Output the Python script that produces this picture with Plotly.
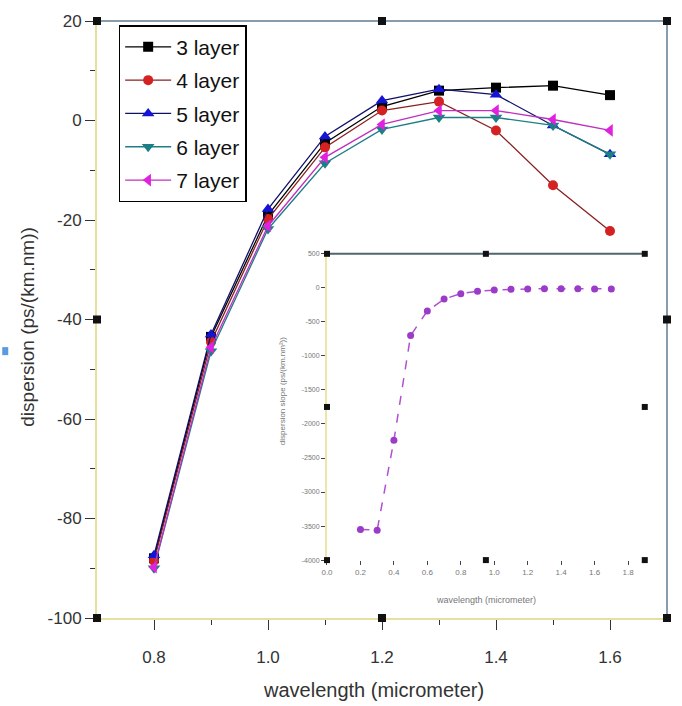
import plotly.graph_objects as go

# ---- main chart data ----
wavelength = [0.8, 0.9, 1.0, 1.1, 1.2, 1.3, 1.4, 1.5, 1.6]
layer3 = [-88.0, -43.5, -19.0, -4.5, 2.8, 6.0, 6.6, 7.0, 5.1]
layer4 = [-88.5, -44.5, -19.8, -5.4, 2.0, 3.8, -2.0, -13.0, -22.2]
layer5 = [-87.4, -43.0, -17.8, -3.2, 4.0, 6.3, 5.2, -1.0, -6.8]
layer6 = [-90.0, -46.4, -21.8, -8.6, -1.8, 0.6, 0.6, -1.0, -6.8]
layer7 = [-89.8, -45.6, -21.2, -7.4, -0.8, 2.0, 2.0, 0.2, -2.0]
series_names = ["3 layer", "4 layer", "5 layer", "6 layer", "7 layer"]
main_xticks = [0.8, 1.0, 1.2, 1.4, 1.6]
main_yticks = [20, 0, -20, -40, -60, -80, -100]

# ---- inset data ----
inset_wl = [0.2, 0.3, 0.4, 0.5, 0.6, 0.7, 0.8, 0.9, 1.0, 1.1, 1.2, 1.3, 1.4, 1.5, 1.6, 1.7]
inset_slope = [-3550, -3560, -2240, -700, -340, -165, -85, -48, -33, -22, -16, -12, -12, -14, -15, -15]
inset_xticks = [0.0, 0.2, 0.4, 0.6, 0.8, 1.0, 1.2, 1.4, 1.6, 1.8]
inset_yticks = [500, 0, -500, -1000, -1500, -2000, -2500, -3000, -3500, -4000]

colors = ["#000000", "#d42222", "#1414d8", "#1c7f86", "#e022e0"]
line_colors = ["#000000", "#8a2020", "#10106a", "#1c7f86", "#c030c0"]
symbols = ["square", "circle", "triangle-up", "triangle-down", "triangle-left"]
sizes = [10, 10, 11, 11, 11]

FONT = "Liberation Sans, Arial, sans-serif"

fig = go.Figure()
for i, (name, ys) in enumerate(zip(series_names, [layer3, layer4, layer5, layer6, layer7])):
    fig.add_trace(go.Scatter(
        x=wavelength, y=ys, name=name, mode="lines+markers",
        line=dict(color=line_colors[i], width=1.3),
        marker=dict(symbol=symbols[i], size=sizes[i], color=colors[i]),
        legendgroup=name, xaxis="x", yaxis="y"))

fig.add_trace(go.Scatter(
    x=inset_wl, y=inset_slope, mode="lines+markers", showlegend=False,
    line=dict(color="#b050d0", width=1.5, dash="dash"),
    marker=dict(symbol="circle", size=7, color="#9a3cc8"),
    xaxis="x2", yaxis="y2"))

axis_font = dict(family=FONT, size=17, color="#333333")
fig.update_layout(
    width=682, height=706,
    margin=dict(l=97, r=15, t=18, b=88),
    paper_bgcolor="white", plot_bgcolor="white",
    showlegend=True,
    legend=dict(x=0.038, y=0.993, xanchor="left", yanchor="top",
                bgcolor="white", bordercolor="#000000", borderwidth=1.5,
                font=dict(family=FONT, size=21, color="#111111"),
                tracegroupgap=3, itemwidth=46),
    xaxis=dict(range=[0.7, 1.7], tickvals=main_xticks, ticktext=[f"{v:.1f}" for v in main_xticks],
               showgrid=False, zeroline=False, showline=True, linecolor="#e4e0a0", linewidth=2,
               ticks="outside", ticklen=10, tickcolor="#333333", tickfont=axis_font,
               ticklabelstandoff=13,
               minor=dict(tickvals=[0.9, 1.1, 1.3, 1.5], ticks="outside", ticklen=5, tickcolor="#333333"),
               domain=[0, 1]),
    yaxis=dict(range=[-100, 20], tickvals=main_yticks, ticktext=[str(v) for v in main_yticks],
               showgrid=False, zeroline=False,
               showline=True, linecolor="#e4e0a0", linewidth=2,
               ticks="outside", ticklen=10, tickcolor="#333333", tickfont=axis_font,
               minor=dict(tickvals=[10, -10, -30, -50, -70, -90], ticks="outside", ticklen=5, tickcolor="#333333"),
               domain=[0, 1]),
    xaxis2=dict(range=[0, 1.9], tickvals=inset_xticks, ticktext=[f"{v:.1f}" for v in inset_xticks],
                anchor="y2", domain=[0.4035, 0.961], showgrid=False, zeroline=False, showline=False,
                ticks="outside", ticklen=4, tickcolor="#444444",
                tickfont=dict(family=FONT, size=8, color="#777777")),
    yaxis2=dict(range=[-4000, 500], tickvals=inset_yticks, ticktext=[str(v) for v in inset_yticks],
                anchor="x2", domain=[0.097, 0.61],
                showgrid=False, zeroline=False, showline=True, linecolor="#ece6a8", linewidth=2,
                ticks="outside", ticklen=4, tickcolor="#444444",
                tickfont=dict(family=FONT, size=7, color="#777777")),
)

# titles
fig.add_annotation(text="wavelength (micrometer)", xref="paper", yref="paper", x=0.485, y=-0.12,
                   showarrow=False, xanchor="center", yanchor="middle",
                   font=dict(family=FONT, size=20, color="#333333"))
fig.add_annotation(text="dispersion (ps/(km.nm))", xref="paper", yref="paper", x=-0.121, y=0.488,
                   showarrow=False, textangle=-90, xanchor="center", yanchor="middle",
                   font=dict(family=FONT, size=19, color="#333333"))
fig.add_annotation(text="wavelength (micrometer)", xref="x2 domain", yref="y2 domain", x=0.5, y=-0.13,
                   showarrow=False, xanchor="center", yanchor="middle",
                   font=dict(family=FONT, size=9, color="#777777"))
fig.add_annotation(text="dispersion slope (ps/(km.nm²))", xref="x2 domain", yref="y2 domain", x=-0.14, y=0.55,
                   showarrow=False, textangle=-90, xanchor="center", yanchor="middle",
                   font=dict(family=FONT, size=8, color="#777777"))

shapes = []
# top and right frame lines of main plot
shapes.append(dict(type="line", xref="paper", yref="paper", x0=0, x1=1, y0=1, y1=1,
                   line=dict(color="#5f7c92", width=1.5)))
shapes.append(dict(type="line", xref="paper", yref="paper", x0=1, x1=1, y0=0, y1=1,
                   line=dict(color="#5f7c92", width=1.5)))
# top line of inset
shapes.append(dict(type="line", xref="x2 domain", yref="y2 domain", x0=0, x1=1, y0=1, y1=1,
                   line=dict(color="#4f6672", width=2)))

def handle(xr, yr, xa, ya, s=4):
    return dict(type="rect", xref=xr, yref=yr, xsizemode="pixel", ysizemode="pixel",
                xanchor=xa, yanchor=ya, x0=-s, x1=s, y0=-s, y1=s,
                fillcolor="#111111", line=dict(width=0))

for xa in (0, 0.5, 1):
    for ya in (0, 0.5, 1):
        if xa == 0.5 and ya == 0.5:
            continue
        shapes.append(handle("paper", "paper", xa, ya))
        shapes.append(handle("x2 domain", "y2 domain", xa, ya, s=3))

# small blue marker at left edge
shapes.append(dict(type="rect", xref="paper", yref="paper", xsizemode="pixel", ysizemode="pixel",
                   xanchor=-0.161, yanchor=0.447, x0=-3, x1=3, y0=-4, y1=4,
                   fillcolor="#5a9ae0", line=dict(width=0)))
fig.update_layout(shapes=shapes)

fig.write_html("out.html", config={"displayModeBar": False},
               post_script="document.body.style.margin='0px';document.body.style.padding='0px';")
